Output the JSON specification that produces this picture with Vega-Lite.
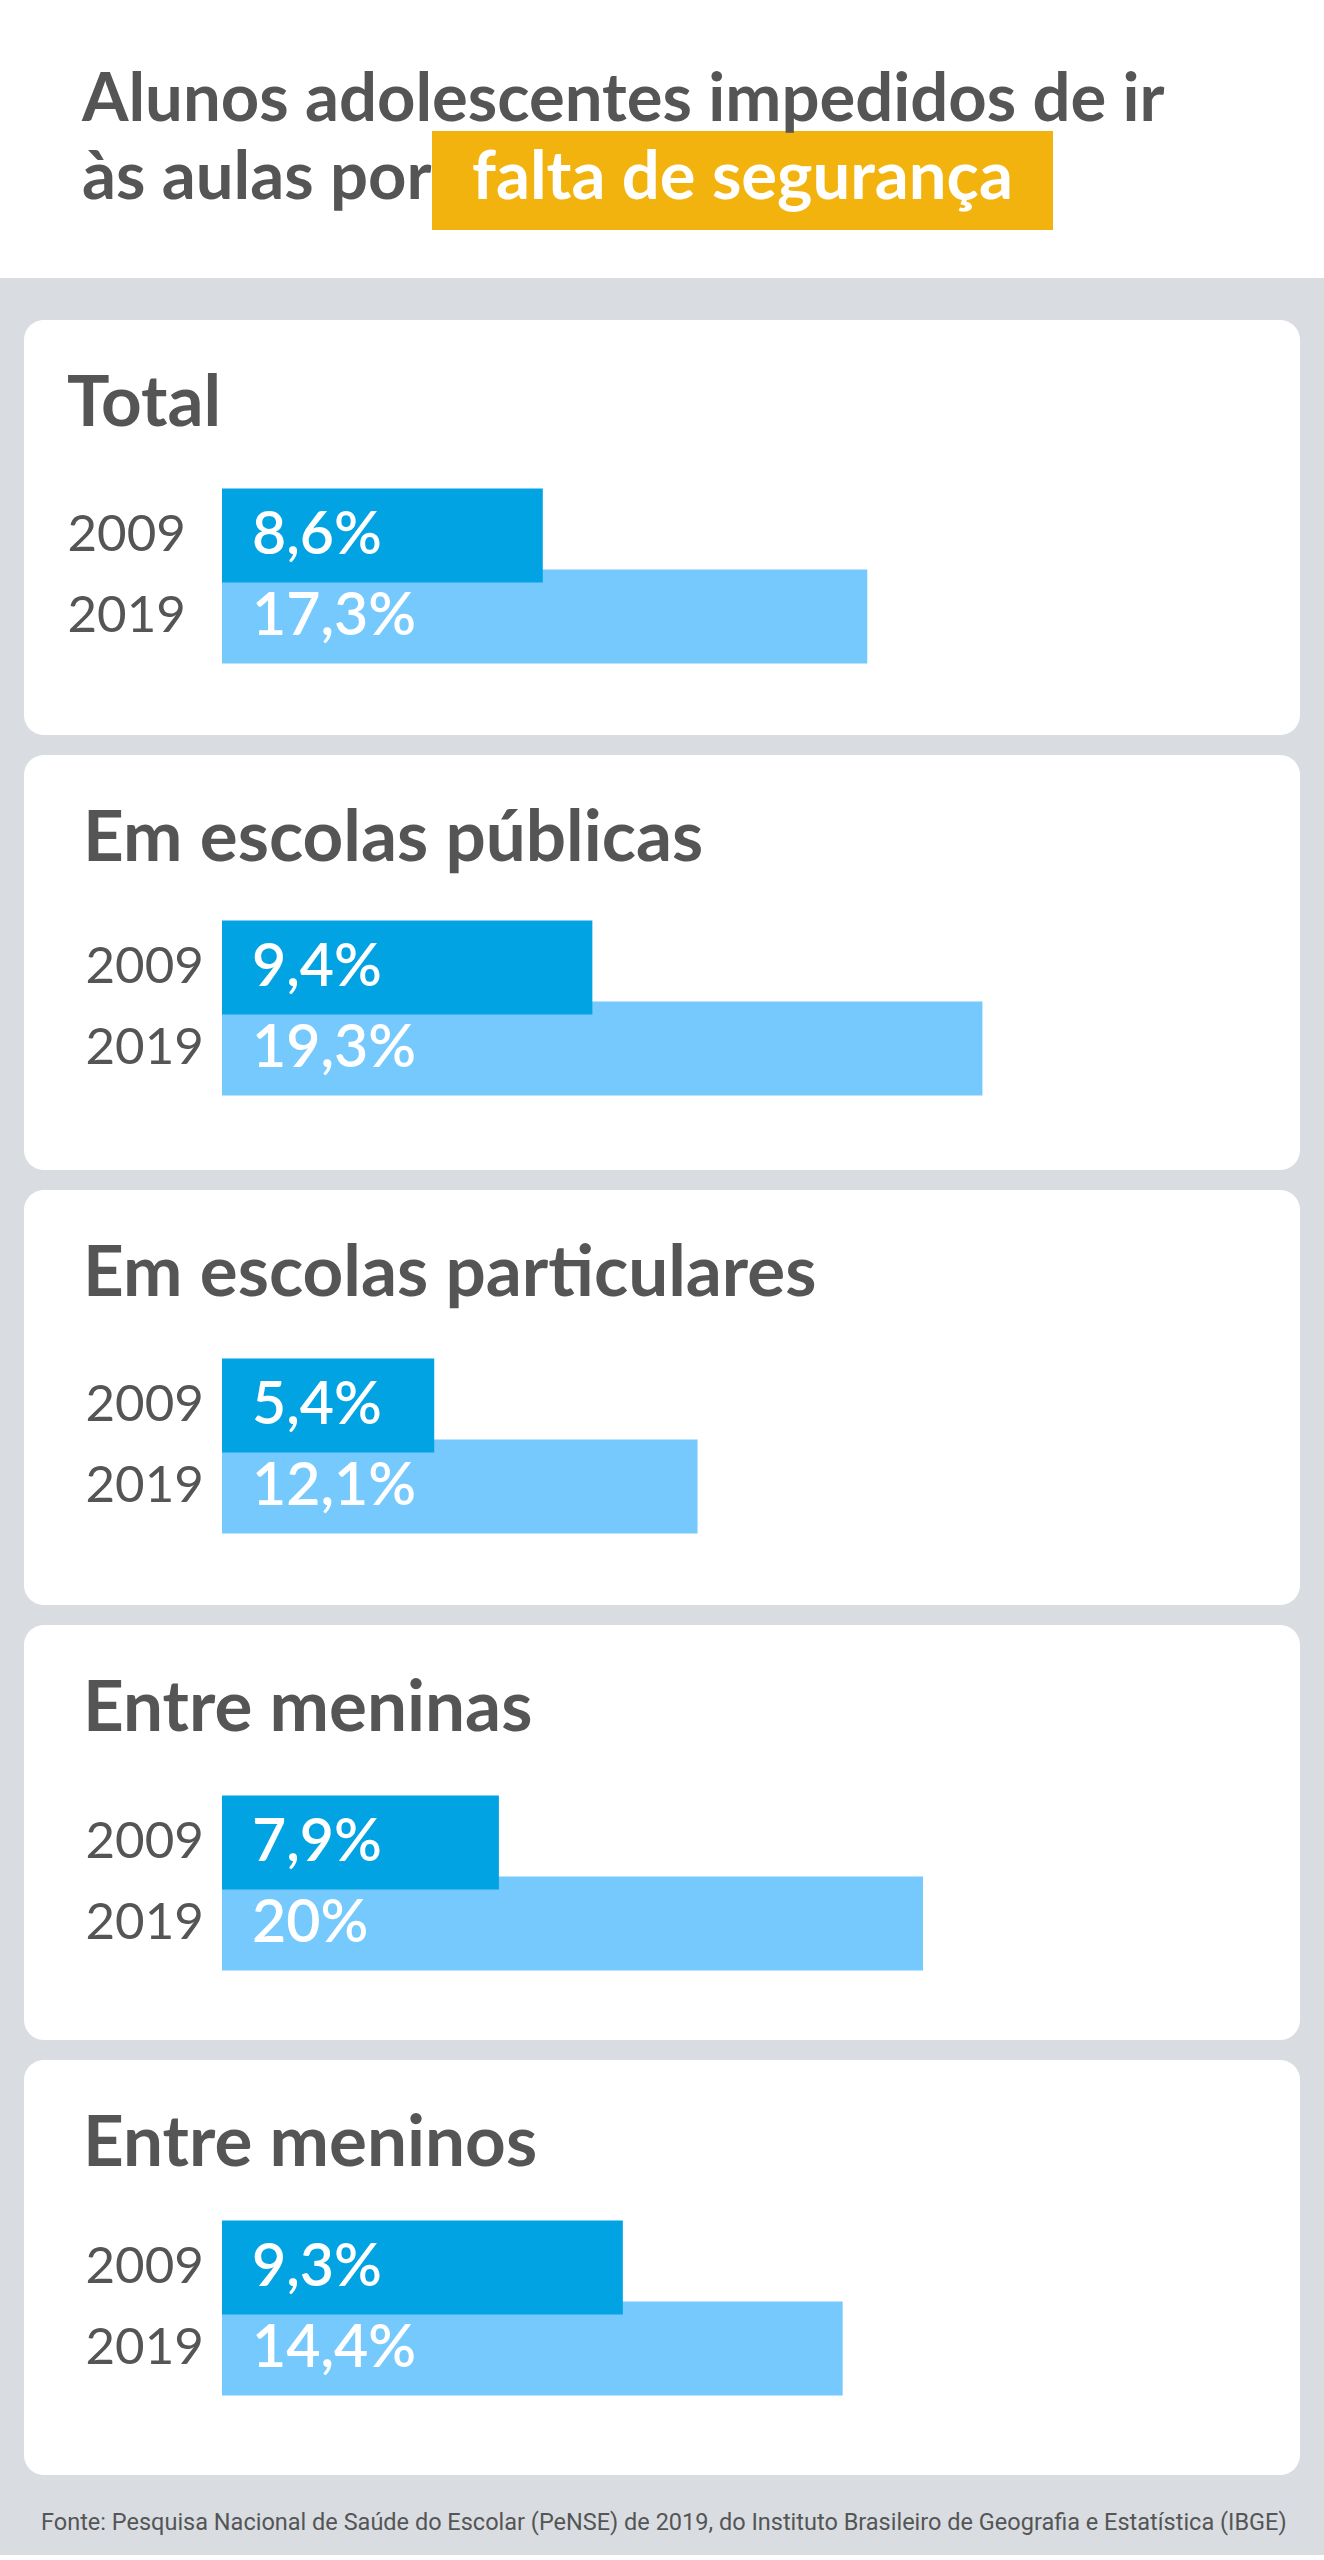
{
  "$schema": "https://vega.github.io/schema/vega-lite/v6.json",
  "padding": {"left": 0, "top": 0, "right": 0, "bottom": 20},
  "background": "#d9dde2",
  "config": {
    "locale": {"number": {"decimal": ",", "thousands": ".", "grouping": [3], "currency": ["R$", ""]}},
    "font": "Lato",
    "view": {"stroke": null}
  },
  "title": {
    "text": "Fonte: Pesquisa Nacional de Saúde do Escolar (PeNSE) de 2019, do Instituto Brasileiro de Geografia e Estatística (IBGE)",
    "orient": "bottom", "anchor": "start", "frame": "bounds", "dx": 41, "offset": 36,
    "font": "Roboto", "fontSize": 23.5, "fontWeight": "normal", "color": "#555555"
  },
  "spacing": 42,
  "center": true,
  "vconcat": [
    {
      "width": 1324, "height": 278,
      "view": {"fill": "#ffffff", "stroke": null},
      "data": {"values": [
        {"linha": 1, "parte": "comum", "texto": "Alunos adolescentes impedidos de ir"},
        {"linha": 2, "parte": "comum", "texto": "às aulas por"},
        {"linha": 2, "parte": "destaque", "texto": "falta de segurança"}
      ]},
      "encoding": {
        "x": {"field": "parte", "type": "nominal", "scale": {"type": "point", "domain": ["comum", "destaque"], "range": [82, 742.5], "padding": 0}, "axis": null},
        "y": {"field": "linha", "type": "ordinal", "scale": {"type": "point", "domain": [1, 2], "range": [101, 179], "padding": 0}, "axis": null}
      },
      "layer": [
        {"transform": [{"filter": "datum.parte === 'destaque'"}], "mark": {"type": "rect", "width": 621, "height": 99, "yOffset": 1.5, "color": "#f3b30f"}},
        {"transform": [{"filter": "datum.parte === 'comum'"}], "mark": {"type": "text", "align": "left", "baseline": "middle", "fontSize": 67, "fontWeight": "bold", "color": "#555555"}, "encoding": {"text": {"field": "texto"}}},
        {"transform": [{"filter": "datum.parte === 'destaque'"}], "mark": {"type": "text", "align": "center", "baseline": "middle", "fontSize": 67, "fontWeight": "bold", "color": "#ffffff"}, "encoding": {"text": {"field": "texto"}}}
      ]
    },
    {
      "spacing": 20,
      "vconcat": [
        {
          "width": 1276, "height": 415,
          "view": {"fill": "#ffffff", "stroke": null, "cornerRadius": 20},
          "title": {"text": "Total", "anchor": "start", "frame": "group", "offset": -121, "dx": 43, "fontSize": 71, "fontWeight": "bold", "color": "#555555"},
          "data": {"values": [{"ano": "2019", "valor": 0.173}, {"ano": "2009", "valor": 0.086}]},
          "encoding": {
            "y": {"field": "ano", "type": "nominal", "scale": {"domain": ["2009", "2019"], "range": [175, 337], "paddingInner": 0, "paddingOuter": 0},
              "axis": {"orient": "left", "offset": -43, "domain": false, "ticks": false, "grid": false, "labelPadding": 0, "labelAlign": "left", "labelBaseline": "middle", "labelFontSize": 51, "labelColor": "#555555", "labelFont": "Lato", "title": null}}
          },
          "layer": [
            {"mark": {"type": "bar", "height": 94}, "encoding": {
              "x": {"field": "valor", "type": "quantitative", "scale": {"domain": [0, 0.2], "range": [198, 944], "nice": false, "zero": true}, "axis": null},
              "color": {"field": "ano", "type": "nominal", "scale": {"domain": ["2009", "2019"], "range": ["#02a3e3", "#76c9fc"]}, "legend": null}}},
            {"mark": {"type": "text", "align": "left", "baseline": "middle", "dx": 30, "fontSize": 59, "fontWeight": 600, "color": "#ffffff"}, "encoding": {
              "x": {"datum": 0}, "text": {"field": "valor", "type": "quantitative", "format": ".1~%"}}}
          ]
        },
        {
          "width": 1276, "height": 415,
          "view": {"fill": "#ffffff", "stroke": null, "cornerRadius": 20},
          "title": {"text": "Em escolas públicas", "anchor": "start", "frame": "group", "offset": -121, "dx": 59, "fontSize": 71, "fontWeight": "bold", "color": "#555555"},
          "data": {"values": [{"ano": "2019", "valor": 0.193}, {"ano": "2009", "valor": 0.094}]},
          "encoding": {
            "y": {"field": "ano", "type": "nominal", "scale": {"domain": ["2009", "2019"], "range": [172, 334], "paddingInner": 0, "paddingOuter": 0},
              "axis": {"orient": "left", "offset": -61, "domain": false, "ticks": false, "grid": false, "labelPadding": 0, "labelAlign": "left", "labelBaseline": "middle", "labelFontSize": 51, "labelColor": "#555555", "labelFont": "Lato", "title": null}}
          },
          "layer": [
            {"mark": {"type": "bar", "height": 94}, "encoding": {
              "x": {"field": "valor", "type": "quantitative", "scale": {"domain": [0, 0.2], "range": [198, 986], "nice": false, "zero": true}, "axis": null},
              "color": {"field": "ano", "type": "nominal", "scale": {"domain": ["2009", "2019"], "range": ["#02a3e3", "#76c9fc"]}, "legend": null}}},
            {"mark": {"type": "text", "align": "left", "baseline": "middle", "dx": 30, "fontSize": 59, "fontWeight": 600, "color": "#ffffff"}, "encoding": {
              "x": {"datum": 0}, "text": {"field": "valor", "type": "quantitative", "format": ".1~%"}}}
          ]
        },
        {
          "width": 1276, "height": 415,
          "view": {"fill": "#ffffff", "stroke": null, "cornerRadius": 20},
          "title": {"text": "Em escolas particulares", "anchor": "start", "frame": "group", "offset": -121, "dx": 59, "fontSize": 71, "fontWeight": "bold", "color": "#555555"},
          "data": {"values": [{"ano": "2019", "valor": 0.121}, {"ano": "2009", "valor": 0.054}]},
          "encoding": {
            "y": {"field": "ano", "type": "nominal", "scale": {"domain": ["2009", "2019"], "range": [175, 337], "paddingInner": 0, "paddingOuter": 0},
              "axis": {"orient": "left", "offset": -61, "domain": false, "ticks": false, "grid": false, "labelPadding": 0, "labelAlign": "left", "labelBaseline": "middle", "labelFontSize": 51, "labelColor": "#555555", "labelFont": "Lato", "title": null}}
          },
          "layer": [
            {"mark": {"type": "bar", "height": 94}, "encoding": {
              "x": {"field": "valor", "type": "quantitative", "scale": {"domain": [0, 0.2], "range": [198, 984], "nice": false, "zero": true}, "axis": null},
              "color": {"field": "ano", "type": "nominal", "scale": {"domain": ["2009", "2019"], "range": ["#02a3e3", "#76c9fc"]}, "legend": null}}},
            {"mark": {"type": "text", "align": "left", "baseline": "middle", "dx": 30, "fontSize": 59, "fontWeight": 600, "color": "#ffffff"}, "encoding": {
              "x": {"datum": 0}, "text": {"field": "valor", "type": "quantitative", "format": ".1~%"}}}
          ]
        },
        {
          "width": 1276, "height": 415,
          "view": {"fill": "#ffffff", "stroke": null, "cornerRadius": 20},
          "title": {"text": "Entre meninas", "anchor": "start", "frame": "group", "offset": -121, "dx": 59, "fontSize": 71, "fontWeight": "bold", "color": "#555555"},
          "data": {"values": [{"ano": "2019", "valor": 0.2}, {"ano": "2009", "valor": 0.079}]},
          "encoding": {
            "y": {"field": "ano", "type": "nominal", "scale": {"domain": ["2009", "2019"], "range": [177, 339], "paddingInner": 0, "paddingOuter": 0},
              "axis": {"orient": "left", "offset": -61, "domain": false, "ticks": false, "grid": false, "labelPadding": 0, "labelAlign": "left", "labelBaseline": "middle", "labelFontSize": 51, "labelColor": "#555555", "labelFont": "Lato", "title": null}}
          },
          "layer": [
            {"mark": {"type": "bar", "height": 94}, "encoding": {
              "x": {"field": "valor", "type": "quantitative", "scale": {"domain": [0, 0.2], "range": [198, 899], "nice": false, "zero": true}, "axis": null},
              "color": {"field": "ano", "type": "nominal", "scale": {"domain": ["2009", "2019"], "range": ["#02a3e3", "#76c9fc"]}, "legend": null}}},
            {"mark": {"type": "text", "align": "left", "baseline": "middle", "dx": 30, "fontSize": 59, "fontWeight": 600, "color": "#ffffff"}, "encoding": {
              "x": {"datum": 0}, "text": {"field": "valor", "type": "quantitative", "format": ".1~%"}}}
          ]
        },
        {
          "width": 1276, "height": 415,
          "view": {"fill": "#ffffff", "stroke": null, "cornerRadius": 20},
          "title": {"text": "Entre meninos", "anchor": "start", "frame": "group", "offset": -121, "dx": 59, "fontSize": 71, "fontWeight": "bold", "color": "#555555"},
          "data": {"values": [{"ano": "2019", "valor": 0.144}, {"ano": "2009", "valor": 0.093}]},
          "encoding": {
            "y": {"field": "ano", "type": "nominal", "scale": {"domain": ["2009", "2019"], "range": [167, 329], "paddingInner": 0, "paddingOuter": 0},
              "axis": {"orient": "left", "offset": -61, "domain": false, "ticks": false, "grid": false, "labelPadding": 0, "labelAlign": "left", "labelBaseline": "middle", "labelFontSize": 51, "labelColor": "#555555", "labelFont": "Lato", "title": null}}
          },
          "layer": [
            {"mark": {"type": "bar", "height": 94}, "encoding": {
              "x": {"field": "valor", "type": "quantitative", "scale": {"domain": [0, 0.2], "range": [198, 1060], "nice": false, "zero": true}, "axis": null},
              "color": {"field": "ano", "type": "nominal", "scale": {"domain": ["2009", "2019"], "range": ["#02a3e3", "#76c9fc"]}, "legend": null}}},
            {"mark": {"type": "text", "align": "left", "baseline": "middle", "dx": 30, "fontSize": 59, "fontWeight": 600, "color": "#ffffff"}, "encoding": {
              "x": {"datum": 0}, "text": {"field": "valor", "type": "quantitative", "format": ".1~%"}}}
          ]
        }
      ]
    }
  ]
}
